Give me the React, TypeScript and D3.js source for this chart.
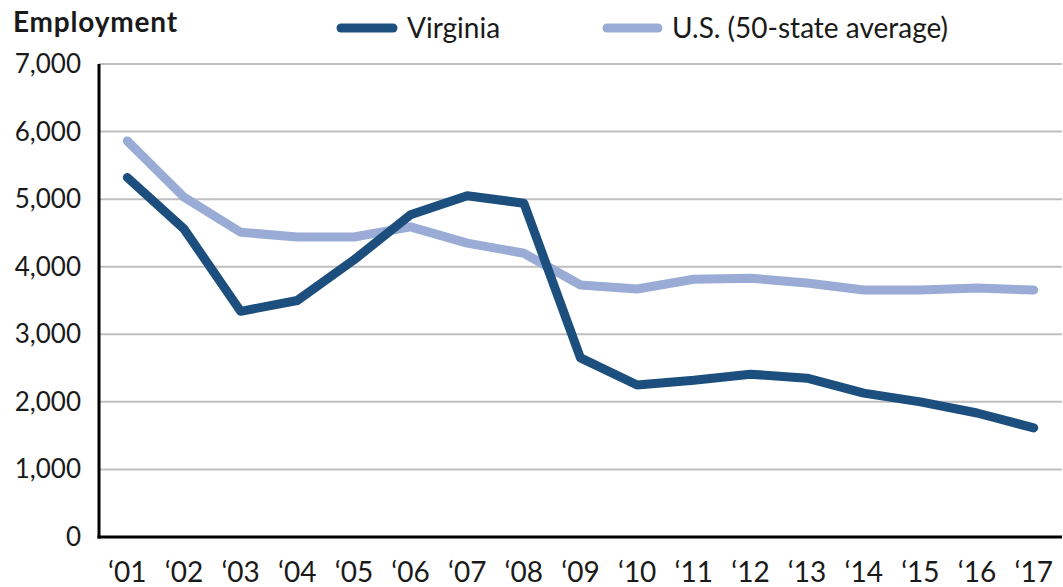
import React from "react";
import * as d3 from "d3";

const years = ["'01","'02","'03","'04","'05","'06","'07","'08","'09","'10","'11","'12","'13","'14","'15","'16","'17"];
const virginia = [5320, 4560, 3340, 3500, 4100, 4770, 5050, 4940, 2650, 2250, 2320, 2410, 2350, 2130, 2000, 1835, 1615];
const usAverage = [5860, 5030, 4510, 4440, 4440, 4590, 4350, 4200, 3730, 3670, 3815, 3830, 3760, 3655, 3655, 3685, 3655];
const yTicks = [0, 1000, 2000, 3000, 4000, 5000, 6000, 7000];

const W = 1063, H = 587;
const M = { left: 99, right: 1062, top: 64, bottom: 537 };
const FONT = "Lato, 'Open Sans', sans-serif";
const DARK = "#1d4f7e";
const LIGHT = "#9aacd6";

export default function App() {
  const x = d3.scaleBand<string>().domain(years).range([M.left, M.right]);
  const y = d3.scaleLinear().domain([0, 7000]).range([M.bottom, M.top]);
  const cx = (d: string) => (x(d) as number) + x.bandwidth() / 2;
  const line = d3.line<number>().x((_, i) => cx(years[i])).y((v) => y(v));
  const fmt = d3.format(",");
  return (
    <svg width={W} height={H} style={{ position: "absolute", left: 0, top: 0, background: "#fff" }}>
      <text x={13} y={32} fontFamily={FONT} fontWeight={700} fontSize={28} letterSpacing={0.8} fill="#1a1a1a">Employment</text>
      {yTicks.slice(1).map((t) => (
        <line key={"g" + t} x1={M.left} x2={M.right} y1={y(t)} y2={y(t)} stroke="#bfbfbf" strokeWidth={2} />
      ))}
      {yTicks.map((t) => (
        <text key={"t" + t} x={81} y={y(t) + 9} textAnchor="end" fontFamily={FONT} fontSize={26} fill="#1a1a1a">{fmt(t)}</text>
      ))}
      {years.map((yr) => (
        <text key={yr} x={cx(yr)} y={582} textAnchor="middle" fontFamily={FONT} fontSize={28} fill="#1a1a1a">{yr.replace("'", "\u2018")}</text>
      ))}
      <path d={line(usAverage) || ""} fill="none" stroke={LIGHT} strokeWidth={9} strokeLinejoin="round" strokeLinecap="round" />
      <path d={line(virginia) || ""} fill="none" stroke={DARK} strokeWidth={9} strokeLinejoin="round" strokeLinecap="round" />
      <line x1={M.left} x2={M.left} y1={M.top} y2={M.bottom + 1.5} stroke="#000" strokeWidth={3} />
      <line x1={M.left - 1.5} x2={M.right} y1={M.bottom} y2={M.bottom} stroke="#000" strokeWidth={3} />
      <line x1={341} x2={393} y1={28} y2={28} stroke={DARK} strokeWidth={9} strokeLinecap="round" />
      <text x={407} y={38} fontFamily={FONT} fontSize={28} fill="#1a1a1a">Virginia</text>
      <line x1={607} x2={658} y1={28} y2={28} stroke={LIGHT} strokeWidth={9} strokeLinecap="round" />
      <text x={672} y={38} fontFamily={FONT} fontSize={28} fill="#1a1a1a">U.S. (50-state average)</text>
    </svg>
  );
}
